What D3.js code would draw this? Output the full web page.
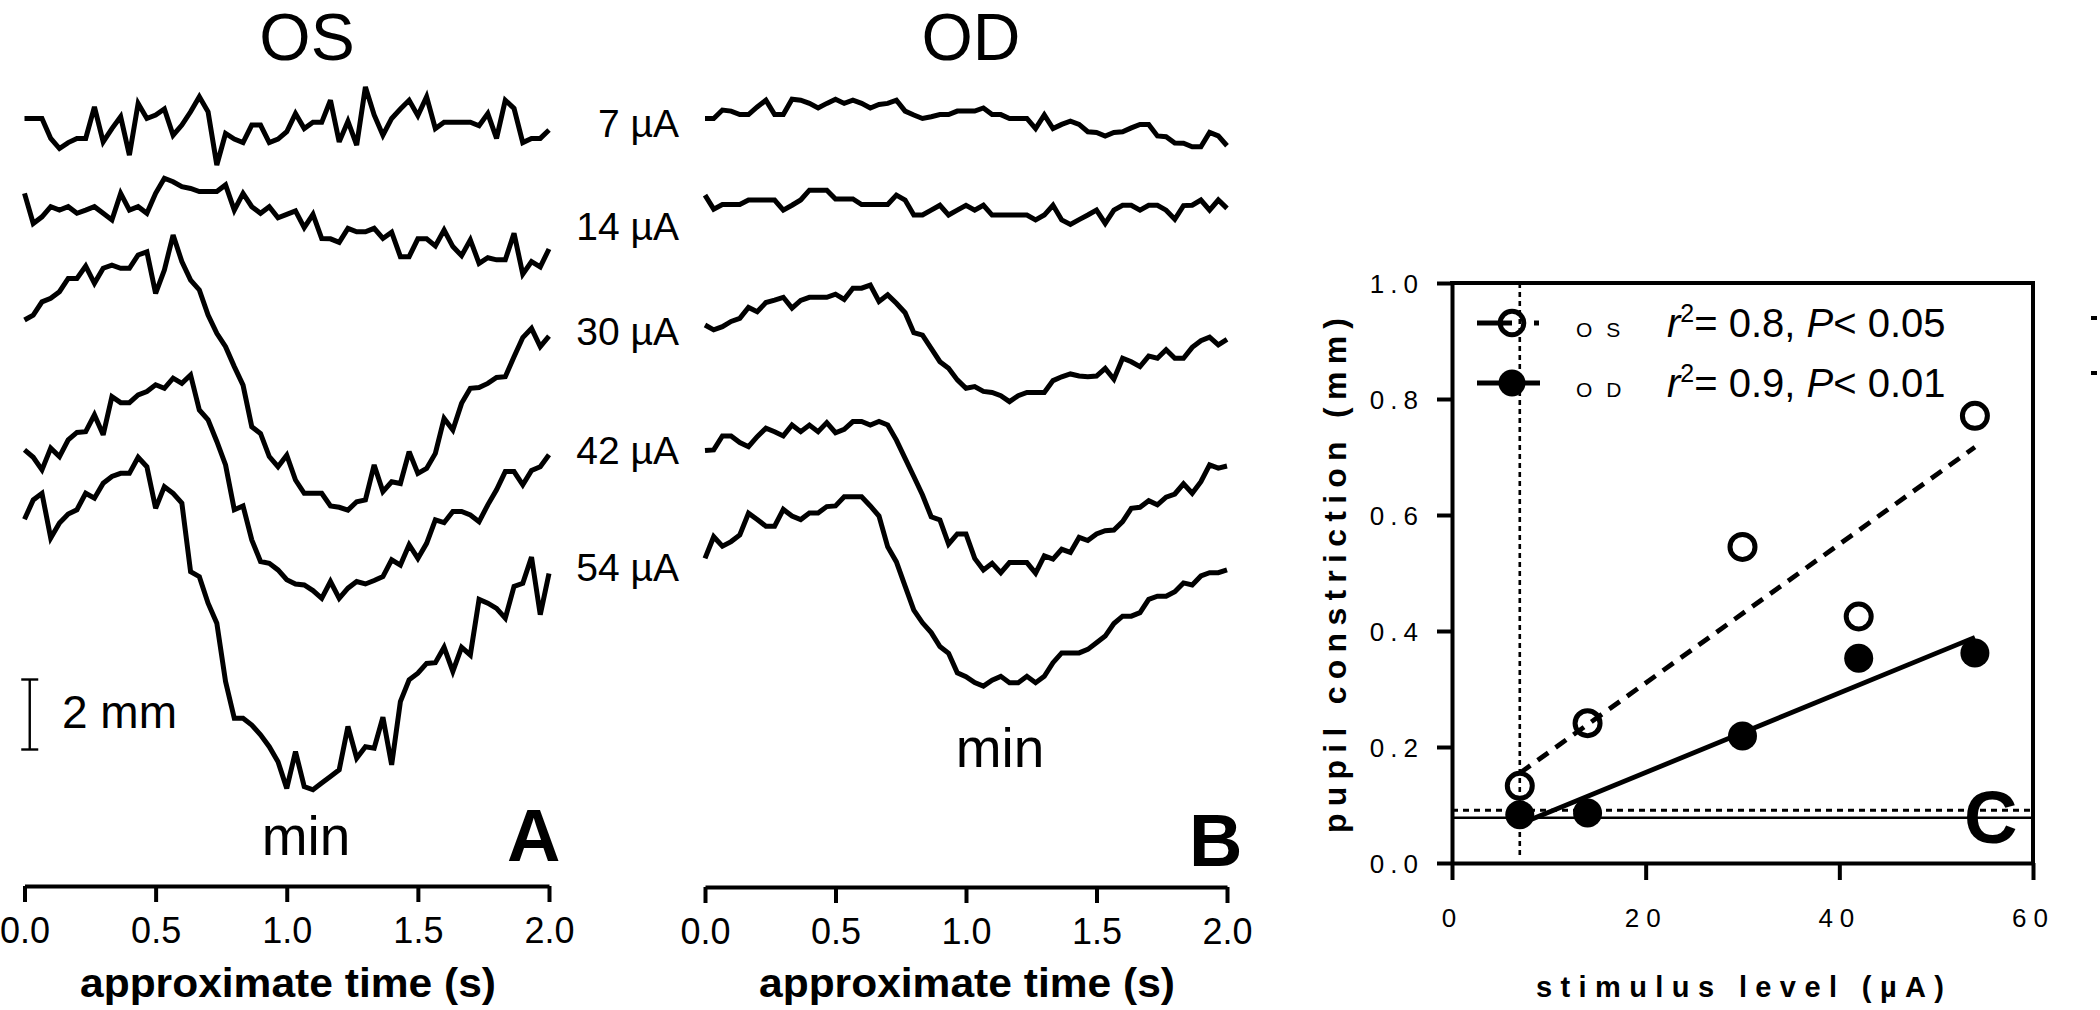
<!DOCTYPE html>
<html><head><meta charset="utf-8">
<script src="https://cdn.jsdelivr.net/npm/d3@7/dist/d3.min.js"></script>
<style>
body{margin:0;background:#fff;}
svg{display:block;}
text{font-family:"Liberation Sans",Arial,Helvetica,sans-serif;fill:#000;}
</style>
</head><body>
<svg id="fig" width="2100" height="1010"></svg>
<script>
// ---------------- DATA ----------------
// time base of traces: 30 Hz samples over 2 s
const times = d3.range(61).map(k => k / 30);
const timeTicks = [0, 0.5, 1.0, 1.5, 2.0];
const timeTickLabels = ["0.0", "0.5", "1.0", "1.5", "2.0"];
const stimLabels = ["7 µA", "14 µA", "30 µA", "42 µA", "54 µA"];

// pupil traces (mm, relative to first sample) – OS (left eye)
const os7  = [0,0,0,-0.57,-0.86,-0.69,-0.57,-0.57,0.33,-0.67,
  -0.29,0.05,-1.05,0.43,0,0.10,0.27,-0.48,-0.19,0.19,
  0.62,0.19,-1.33,-0.43,-0.59,-0.69,-0.19,-0.19,-0.69,-0.59,
  -0.38,0.14,-0.29,-0.11,-0.11,0.52,-0.67,-0.08,-0.76,0.90,
  0.10,-0.48,0,0.27,0.52,0.08,0.62,-0.29,-0.11,-0.11,
  -0.11,-0.11,-0.21,0.14,-0.57,0.52,0.29,-0.69,-0.57,-0.57,
  -0.33];
const os14 = [0,-0.86,-0.67,-0.38,-0.48,-0.38,-0.57,-0.48,-0.38,-0.57,
  -0.76,0,-0.48,-0.38,-0.57,0,0.43,0.33,0.19,0.14,
  0.05,0.05,0.05,0.24,-0.48,0,-0.38,-0.57,-0.38,-0.70,
  -0.60,-0.50,-0.98,-0.60,-1.29,-1.30,-1.40,-1.00,-1.10,-1.10,
  -1.00,-1.29,-1.11,-1.81,-1.81,-1.30,-1.30,-1.50,-1.05,-1.52,
  -1.78,-1.33,-2.00,-1.84,-1.90,-1.90,-1.14,-2.31,-1.95,-2.10,
  -1.59];
const os30 = [0,0.14,0.52,0.62,0.81,1.19,1.19,1.54,1.05,1.48,
  1.57,1.48,1.48,1.86,1.95,0.76,1.43,2.43,1.67,1.14,
  0.86,0.14,-0.38,-0.76,-1.33,-1.86,-3.05,-3.24,-3.90,-4.19,
  -3.86,-4.57,-4.95,-4.95,-4.95,-5.31,-5.35,-5.43,-5.19,-5.14,
  -4.14,-4.90,-4.62,-4.67,-3.76,-4.38,-4.24,-3.81,-2.81,-3.14,
  -2.38,-1.95,-1.93,-1.81,-1.64,-1.62,-1.05,-0.50,-0.24,-0.76,
  -0.46];
const os42 = [0,-0.21,-0.57,0.05,-0.19,0.29,0.50,0.52,1.00,0.43,
  1.52,1.35,1.35,1.57,1.67,1.86,1.76,2.05,1.90,2.14,
  1.14,0.86,0.24,-0.43,-1.71,-1.60,-2.57,-3.19,-3.24,-3.43,
  -3.71,-3.83,-3.86,-4.02,-4.24,-3.76,-4.24,-3.95,-3.76,-3.83,
  -3.73,-3.62,-3.14,-3.29,-2.71,-3.10,-2.67,-2.00,-2.08,-1.76,
  -1.76,-1.86,-2.05,-1.57,-1.14,-0.62,-0.62,-1.00,-0.59,-0.48,
  -0.14];
const os54 = [0,0.55,0.74,-0.54,-0.11,0.15,0.27,0.74,0.60,1.03,
  1.22,1.31,1.31,1.77,1.50,0.31,0.93,0.74,0.46,-1.50,
  -1.64,-2.40,-2.97,-4.64,-5.69,-5.69,-5.88,-6.16,-6.50,-6.93,
  -7.69,-6.64,-7.64,-7.73,-7.54,-7.35,-7.16,-5.92,-6.83,-6.50,
  -6.54,-5.66,-7.02,-5.21,-4.59,-4.40,-4.12,-4.10,-3.66,-4.35,
  -3.66,-3.88,-2.29,-2.40,-2.55,-2.83,-1.92,-1.83,-1.08,-2.73,
  -1.55];
// OD (right eye)
const od7  = [0,0,0.24,0.21,0.11,0.11,0.33,0.52,0.11,0.11,
  0.55,0.52,0.43,0.30,0.43,0.55,0.43,0.52,0.43,0.30,
  0.40,0.43,0.52,0.21,0.10,0,0.05,0.11,0.11,0.21,
  0.21,0.21,0.30,0.11,0.11,0,0,0,-0.29,0.10,
  -0.29,-0.17,-0.08,-0.17,-0.38,-0.40,-0.50,-0.40,-0.38,-0.27,
  -0.17,-0.17,-0.50,-0.52,-0.70,-0.71,-0.81,-0.81,-0.40,-0.50,
  -0.78];
const od14 = [0,-0.40,-0.27,-0.27,-0.27,-0.14,-0.14,-0.14,-0.14,-0.43,
  -0.29,-0.14,0.14,0.14,0.14,-0.11,-0.11,-0.11,-0.27,-0.27,
  -0.27,-0.27,0,-0.14,-0.57,-0.57,-0.43,-0.29,-0.57,-0.43,
  -0.29,-0.43,-0.29,-0.57,-0.57,-0.57,-0.57,-0.57,-0.71,-0.57,
  -0.29,-0.71,-0.84,-0.70,-0.57,-0.43,-0.81,-0.43,-0.29,-0.29,
  -0.43,-0.29,-0.29,-0.43,-0.69,-0.30,-0.29,-0.14,-0.43,-0.14,
  -0.38];
const od30 = [0,-0.14,-0.05,0.10,0.19,0.50,0.38,0.64,0.71,0.79,
  0.48,0.70,0.79,0.79,0.79,0.88,0.73,1.05,1.05,1.14,
  0.67,0.86,0.62,0.35,-0.22,-0.29,-0.67,-1.05,-1.24,-1.57,
  -1.81,-1.76,-1.90,-1.93,-2.02,-2.19,-2.02,-1.93,-1.93,-1.93,
  -1.59,-1.48,-1.40,-1.46,-1.48,-1.46,-1.24,-1.55,-0.95,-1.05,
  -1.19,-0.89,-0.95,-0.71,-0.95,-0.95,-0.64,-0.45,-0.35,-0.57,
  -0.41];
const od42 = [0,0.02,0.42,0.42,0.23,0.11,0.40,0.64,0.54,0.42,
  0.73,0.54,0.73,0.54,0.80,0.51,0.61,0.83,0.83,0.73,
  0.83,0.73,0.30,-0.22,-0.74,-1.27,-1.89,-1.98,-2.67,-2.38,
  -2.38,-3.08,-3.41,-3.22,-3.49,-3.20,-3.20,-3.20,-3.50,-3.01,
  -3.10,-2.82,-2.91,-2.48,-2.57,-2.38,-2.29,-2.27,-2.03,-1.65,
  -1.62,-1.43,-1.55,-1.33,-1.24,-0.95,-1.22,-0.89,-0.41,-0.50,
  -0.44];
const od54 = [0,0.62,0.35,0.48,0.67,1.29,1.11,0.92,0.92,1.40,
  1.21,1.11,1.30,1.30,1.48,1.50,1.76,1.76,1.76,1.50,
  1.21,0.33,-0.10,-0.79,-1.48,-1.84,-2.12,-2.52,-2.71,-3.27,
  -3.38,-3.55,-3.65,-3.48,-3.37,-3.55,-3.55,-3.37,-3.55,-3.37,
  -2.98,-2.70,-2.70,-2.70,-2.60,-2.41,-2.22,-1.86,-1.65,-1.65,
  -1.55,-1.17,-1.08,-1.08,-0.95,-0.70,-0.76,-0.50,-0.41,-0.41,
  -0.33];
// vertical stacking offsets of the traces (mm)
const osOffsets = [21.93, 19.79, 16.17, 12.46, 10.48];
const odOffsets = [21.93, 19.74, 16.03, 12.44, 9.36];
const scaleBarMM = [3.9, 5.9];   // "2 mm" calibration bar

// Panel C
const stimLevels = [7, 14, 30, 42, 54];
const osConstriction = [0.133, 0.241, 0.545, 0.425, 0.771];
const odConstriction = [0.083, 0.086, 0.219, 0.353, 0.362];
const osFit = [[7, 0.155], [54, 0.717]];
const odFit = [[7, 0.067], [54, 0.389]];
const thresholdStim = 7;
const noiseDotted = 0.091;
const noiseSolid = 0.078;
const cTicksY = [0, 0.2, 0.4, 0.6, 0.8, 1.0];
const cTicksX = [0, 20, 40, 60];
const legendStats = [
  {eye: "O S", r2: "0.8", p: "0.05"},
  {eye: "O D", r2: "0.9", p: "0.01"}
];

// ---------------- DRAW ----------------
const svg = d3.select("#fig");
const FONT = '"Liberation Sans", Arial, Helvetica, sans-serif';

const yT = d3.scaleLinear().domain([0, 25]).range([886, 11]); // 35 px per mm

const panels = [
  {title: "OS", letter: "A", traces: [os7, os14, os30, os42, os54], offsets: osOffsets,
   range: [24.5, 549], axisY: 886, titleX: 307, titleY: 60, minX: 306, minY: 855,
   letterX: 507, letterY: 861, titleStart: 80},
  {title: "OD", letter: "B", traces: [od7, od14, od30, od42, od54], offsets: odOffsets,
   range: [705, 1227], axisY: 887, titleX: 971, titleY: 60, minX: 1000, minY: 767,
   letterX: 1189, letterY: 866, titleStart: 759}
];

panels.forEach((p, pi) => {
  const x = d3.scaleLinear().domain([0, 2]).range(p.range);
  const g = svg.append("g");

  p.traces.forEach((tr, i) => {
    const line = d3.line().x((d, k) => x(times[k])).y(d => yT(p.offsets[i] + d));
    g.append("path").attr("d", line(tr)).attr("fill", "none")
      .attr("stroke", "#000").attr("stroke-width", 5)
      .attr("stroke-linejoin", "miter").attr("stroke-miterlimit", 3);
  });

  const ax = d3.axisBottom(x).tickValues(timeTicks)
    .tickFormat((d, i) => timeTickLabels[i]).tickSize(16).tickSizeOuter(0);
  const ag = g.append("g").attr("transform", `translate(0,${p.axisY})`).call(ax);
  ag.attr("font-family", FONT).attr("font-size", 36);
  ag.select(".domain").attr("stroke-width", 4).attr("stroke", "#000");
  ag.selectAll(".tick line").attr("stroke-width", 4).attr("stroke", "#000");
  ag.selectAll(".tick text").attr("y", 57).attr("dy", null).attr("fill", "#000");

  g.append("text").attr("x", p.titleStart).attr("y", 997)
    .attr("font-size", 41).attr("font-weight", "bold")
    .attr("textLength", 416).attr("lengthAdjust", "spacingAndGlyphs")
    .text("approximate time (s)");

  g.append("text").attr("x", p.titleX).attr("y", p.titleY).attr("text-anchor", "middle")
    .attr("font-size", 66).text(p.title);
  g.append("text").attr("x", p.minX).attr("y", p.minY).attr("text-anchor", "middle")
    .attr("font-size", 55).text("min");
  g.append("text").attr("x", p.letterX).attr("y", p.letterY)
    .attr("font-size", 74).attr("font-weight", "bold").text(p.letter);
});

// stimulus labels between panels A and B
const labelBase = [137, 240, 345, 464, 581];
stimLabels.forEach((s, i) => {
  svg.append("text").attr("x", 679).attr("y", labelBase[i]).attr("text-anchor", "end")
    .attr("font-size", 39).text(s);
});

// 2 mm scale bar (panel A)
{
  const xA = d3.scaleLinear().domain([0, 2]).range(panels[0].range);
  const bx = xA(0.02);
  const y0 = yT(scaleBarMM[0]), y1 = yT(scaleBarMM[1]);
  const sb = svg.append("g").attr("stroke", "#000").attr("stroke-width", 2.4);
  sb.append("line").attr("x1", bx).attr("x2", bx).attr("y1", y0).attr("y2", y1);
  sb.append("line").attr("x1", bx - 8.5).attr("x2", bx + 8.5).attr("y1", y0).attr("y2", y0);
  sb.append("line").attr("x1", bx - 8.5).attr("x2", bx + 8.5).attr("y1", y1).attr("y2", y1);
  svg.append("text").attr("x", 62).attr("y", 728).attr("font-size", 46).text("2 mm");
}

// ---------------- PANEL C ----------------
const xC = d3.scaleLinear().domain([0, 60]).range([1452, 2033]);
const yC = d3.scaleLinear().domain([0, 1]).range([863, 283]);
const gc = svg.append("g");

// reference lines
gc.append("line").attr("x1", xC(thresholdStim)).attr("x2", xC(thresholdStim))
  .attr("y1", yC(1)).attr("y2", yC(0) - 8)
  .attr("stroke", "#000").attr("stroke-width", 2.6).attr("stroke-dasharray", "5,4");
gc.append("line").attr("x1", xC(0)).attr("x2", xC(60))
  .attr("y1", yC(noiseDotted)).attr("y2", yC(noiseDotted))
  .attr("stroke", "#000").attr("stroke-width", 3).attr("stroke-dasharray", "6,5");
gc.append("line").attr("x1", xC(0)).attr("x2", xC(60))
  .attr("y1", yC(noiseSolid)).attr("y2", yC(noiseSolid))
  .attr("stroke", "#000").attr("stroke-width", 2.4);

// regression lines
const fitLine = d3.line().x(d => xC(d[0])).y(d => yC(d[1]));
gc.append("path").attr("d", fitLine(osFit)).attr("fill", "none").attr("stroke", "#000")
  .attr("stroke-width", 4.8).attr("stroke-dasharray", "13,9");
gc.append("path").attr("d", fitLine(odFit)).attr("fill", "none").attr("stroke", "#000")
  .attr("stroke-width", 4.8);

// points
gc.selectAll("circle.os").data(stimLevels).enter().append("circle")
  .attr("cx", d => xC(d)).attr("cy", (d, i) => yC(osConstriction[i])).attr("r", 12.5)
  .attr("fill", "none").attr("stroke", "#000").attr("stroke-width", 5);
gc.selectAll("circle.od").data(stimLevels).enter().append("circle")
  .attr("cx", d => xC(d)).attr("cy", (d, i) => yC(odConstriction[i])).attr("r", 14.5)
  .attr("fill", "#000");

// axes
const axL = d3.axisLeft(yC).tickValues(cTicksY).tickFormat(d3.format(".1f"))
  .tickSize(15).tickPadding(13).tickSizeOuter(0);
const gl = gc.append("g").attr("transform", `translate(${xC(0)},0)`).call(axL);
gl.attr("font-family", FONT).attr("font-size", 26);
gl.select(".domain").attr("stroke-width", 4).attr("stroke", "#000");
gl.selectAll(".tick line").attr("stroke-width", 4).attr("stroke", "#000");
gl.selectAll(".tick text").attr("dy", "0.37em").attr("letter-spacing", 6).attr("fill", "#000");

const axB = d3.axisBottom(xC).tickValues(cTicksX).tickFormat(d3.format("d"))
  .tickSize(17).tickPadding(0).tickSizeOuter(0);
const gb = gc.append("g").attr("transform", `translate(0,${yC(0)})`).call(axB);
gb.attr("font-family", FONT).attr("font-size", 26);
gb.select(".domain").attr("stroke-width", 4).attr("stroke", "#000");
gb.selectAll(".tick line").attr("stroke-width", 4).attr("stroke", "#000");
gb.selectAll(".tick text").attr("y", 64).attr("dy", null).attr("letter-spacing", 7).attr("fill", "#000");

// box: top and right spines
gc.append("line").attr("x1", xC(0)).attr("x2", xC(60)).attr("y1", yC(1)).attr("y2", yC(1))
  .attr("stroke", "#000").attr("stroke-width", 4).attr("stroke-linecap", "square");
gc.append("line").attr("x1", xC(60)).attr("x2", xC(60)).attr("y1", yC(1)).attr("y2", yC(0))
  .attr("stroke", "#000").attr("stroke-width", 4).attr("stroke-linecap", "square");

// axis titles
gc.append("text").attr("transform", "translate(1346,833) rotate(-90)")
  .attr("font-size", 32).attr("font-weight", "bold")
  .attr("textLength", 515).attr("lengthAdjust", "spacing")
  .text("pupil constriction (mm)");
gc.append("text").attr("x", 1536).attr("y", 997)
  .attr("font-size", 29).attr("font-weight", "bold")
  .attr("textLength", 408).attr("lengthAdjust", "spacing")
  .text("stimulus level (µA)");

// legend
const legY = [323, 383];
// OS entry: dashed line with open circle
gc.append("line").attr("x1", 1477).attr("x2", 1512).attr("y1", legY[0]).attr("y2", legY[0])
  .attr("stroke", "#000").attr("stroke-width", 5);
gc.append("line").attr("x1", 1534).attr("x2", 1539).attr("y1", legY[0]).attr("y2", legY[0])
  .attr("stroke", "#000").attr("stroke-width", 5);
gc.append("circle").attr("cx", 1512).attr("cy", legY[0]).attr("r", 11.8)
  .attr("fill", "none").attr("stroke", "#000").attr("stroke-width", 5);
// OD entry: solid line with filled circle
gc.append("line").attr("x1", 1477).attr("x2", 1540).attr("y1", legY[1]).attr("y2", legY[1])
  .attr("stroke", "#000").attr("stroke-width", 5);
gc.append("circle").attr("cx", 1512).attr("cy", legY[1]).attr("r", 13.5).attr("fill", "#000");

legendStats.forEach((s, i) => {
  const by = legY[i] + 14;
  gc.append("text").attr("x", 1576).attr("y", by).attr("font-size", 21)
    .attr("letter-spacing", 4).text(s.eye);
  const t = gc.append("text").attr("x", 1667).attr("y", by).attr("font-size", 40);
  t.append("tspan").attr("font-style", "italic").text("r");
  t.append("tspan").attr("font-size", 25).attr("dy", -15).text("2");
  t.append("tspan").attr("dy", 15).text("= " + s.r2 + ", ");
  t.append("tspan").attr("font-style", "italic").text("P");
  t.append("tspan").text("< " + s.p);
});

// panel letter C
gc.append("text").attr("x", 1964).attr("y", 843).attr("font-size", 74)
  .attr("font-weight", "bold").text("C");

// clipped marks at the right edge
[318, 373].forEach(yy => {
  gc.append("line").attr("x1", 2091).attr("x2", 2097).attr("y1", yy).attr("y2", yy)
    .attr("stroke", "#000").attr("stroke-width", 4);
});
</script>
</body></html>
